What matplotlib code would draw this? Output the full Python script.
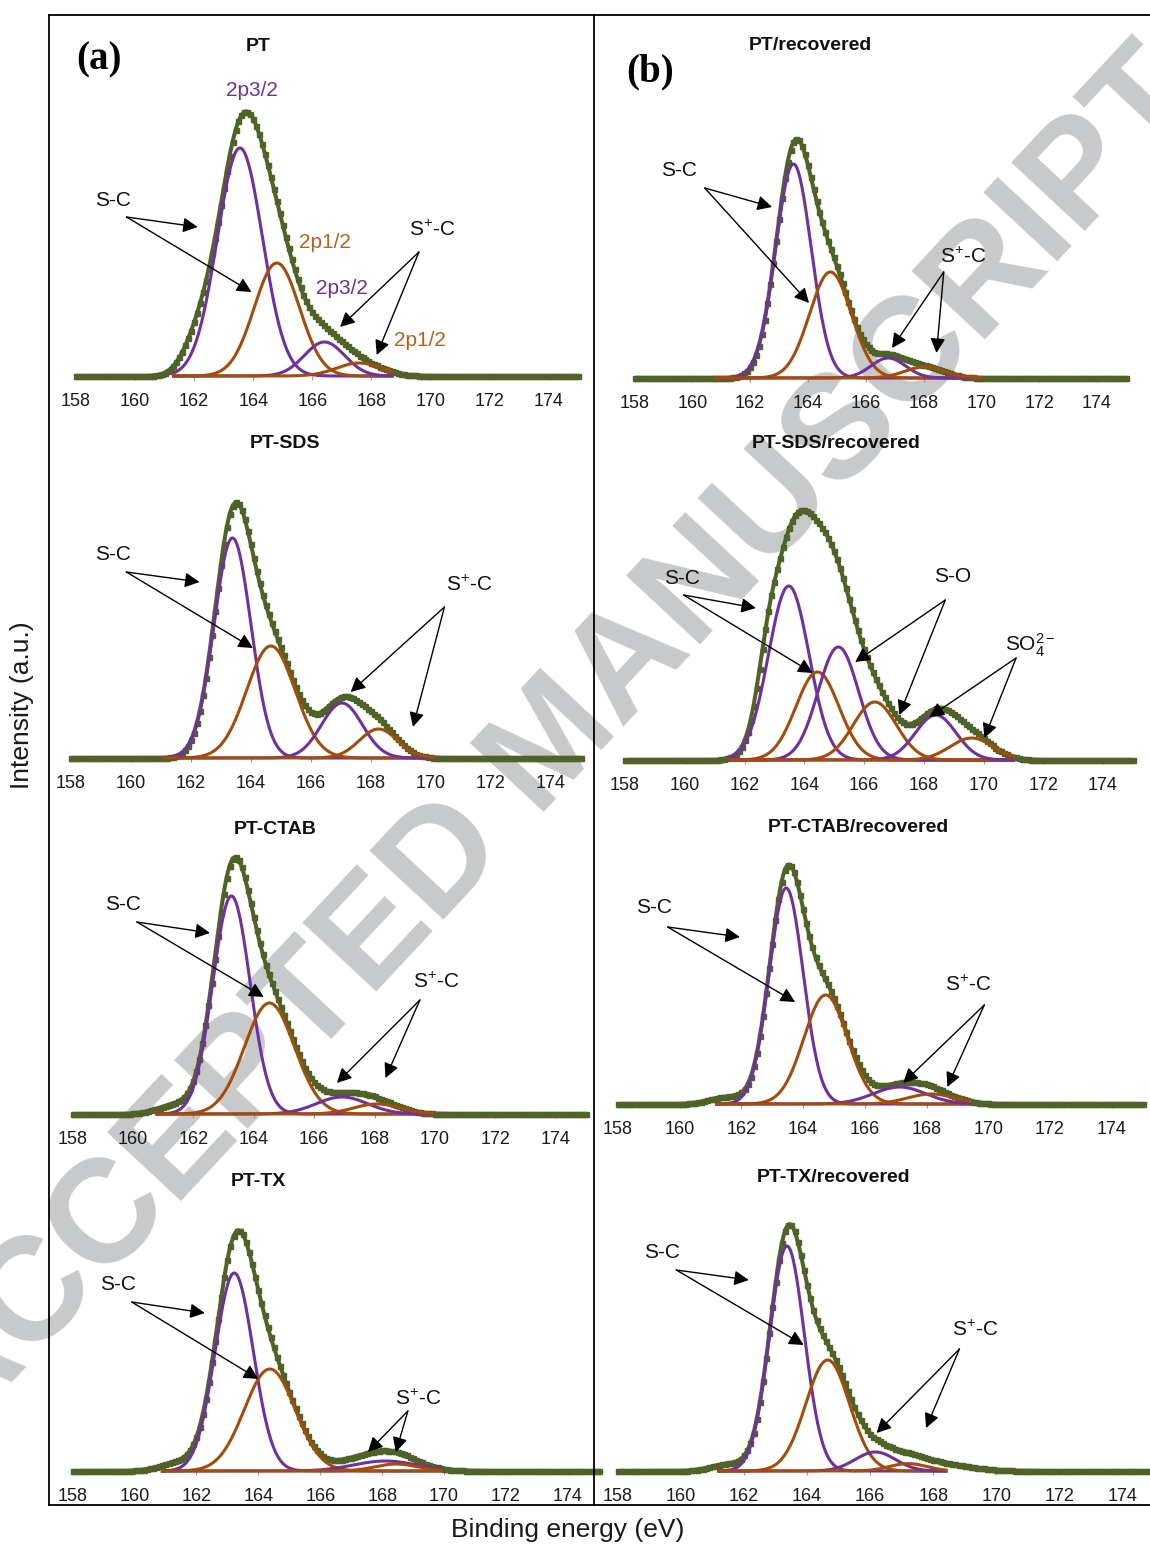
import numpy as np
import matplotlib
matplotlib.use("Agg")
import matplotlib.pyplot as plt
from matplotlib.lines import Line2D

plt.rcParams['font.family'] = ['Liberation Sans', 'DejaVu Sans']
plt.rcParams['mathtext.fontset'] = 'custom'
plt.rcParams['mathtext.rm'] = 'Liberation Sans'
plt.rcParams['mathtext.it'] = 'Liberation Sans:italic'
plt.rcParams['mathtext.bf'] = 'Liberation Sans:bold'

W, H = 1150, 1544

# ---------------- data ----------------
TITLES = ['PT', 'PT/recovered', 'PT-SDS', 'PT-SDS/recovered',
          'PT-CTAB', 'PT-CTAB/recovered', 'PT-TX', 'PT-TX/recovered']

XTICKS = [158, 160, 162, 164, 166, 168, 170, 172, 174]

# fitted S 2p components per panel: centre (eV), height (a.u.), FWHM (eV), kind
CENTERS = [
    [163.55, 164.80, 166.41, 167.59],
    [163.50, 164.78, 166.78, 168.03],
    [163.39, 164.67, 167.04, 168.26],
    [163.48, 164.44, 165.14, 166.36, 168.40, 169.60],
    [163.26, 164.52, 166.92, 168.07],
    [163.45, 164.73, 167.12, 168.15],
    [163.22, 164.37, 168.10, 168.45],
    [163.36, 164.65, 166.16, 167.20],
]
HEIGHTS = [
    [228, 113, 34, 13],
    [214, 106, 20, 11],
    [220, 112, 55, 29],
    [174, 88, 113, 58, 45, 22],
    [218, 111, 17, 10],
    [216, 109, 17, 10],
    [198, 102, 10, 7],
    [225, 111, 19, 7.4],
]
FWHMS = [
    [1.80, 1.80, 1.60, 1.80],
    [1.45, 1.70, 1.40, 1.60],
    [1.45, 1.90, 1.60, 1.50],
    [1.60, 1.70, 1.60, 1.70, 1.60, 1.70],
    [1.45, 1.95, 2.00, 1.80],
    [1.30, 1.66, 2.00, 1.80],
    [1.45, 1.93, 2.40, 1.60],
    [1.30, 1.63, 1.50, 1.40],
]
KINDS = [
    ['p', 'o', 'p', 'o'],
    ['p', 'o', 'p', 'o'],
    ['p', 'o', 'p', 'o'],
    ['p', 'o', 'p', 'o', 'p', 'o'],
    ['p', 'o', 'p', 'o'],
    ['p', 'o', 'p', 'o'],
    ['p', 'o', 'p', 'o'],
    ['p', 'o', 'p', 'o'],
]
# extra background contributions of the fitted envelope (centre, height, FWHM)
ENV_EXTRA = [
    [(162.1, 25, 1.2)],
    [],
    [],
    [(162.75, 35, 0.8), (164.2, 20, 1.5)],
    [(161.4, 9, 1.4)],
    [(161.5, 7, 1.3)],
    [(161.4, 8, 1.4), (167.3, 7, 2.0)],
    [(161.5, 7, 1.3), (168.0, 8, 2.5)],
]
# energy range over which the components are drawn
FIT_RANGE = [(161.3, 168.7), (160.8, 170.0), (161.1, 170.1), (161.5, 171.0),
             (160.8, 169.9), (161.2, 169.4), (160.9, 169.9), (161.2, 168.4)]

# annotations: label, label position, arrow origin, arrow tips (data coords)
ANN = [
    [('S-C', (159.24, 176), (159.71, 159), [(162.12, 149), (163.94, 84)]),
     ('S$^{+}$-C', (170.05, 146), (169.61, 124), [(166.94, 49), (168.18, 21)])],
    [('S-C', (159.54, 208), (160.43, 190), [(162.76, 171), (164.04, 75)]),
     ('S$^{+}$-C', (169.37, 121), (168.70, 106), [(166.91, 30), (168.45, 25)])],
    [('S-C', (159.39, 203), (159.85, 186), [(162.29, 176), (164.07, 110)]),
     ('S$^{+}$-C', (171.28, 173), (170.46, 151), [(167.33, 66), (169.41, 31)])],
    [('S-C', (159.89, 181), (159.96, 165), [(162.38, 152), (164.28, 87)]),
     ('S-O', (168.96, 183), (168.72, 160), [(165.70, 98), (167.18, 45)]),
     ('SO$_4^{2-}$', (171.56, 115), (171.09, 102), [(168.19, 43), (170.03, 22)])],
    [('S-C', (159.67, 209), (160.13, 192), [(162.55, 181), (164.33, 117)]),
     ('S$^{+}$-C', (170.03, 132), (169.50, 114), [(166.75, 31), (168.36, 36)])],
    [('S-C', (159.18, 196), (159.61, 177), [(161.95, 167), (163.74, 102)]),
     ('S$^{+}$-C', (169.36, 119), (169.87, 99), [(167.24, 21), (168.67, 17)])],
    [('S-C', (159.46, 186), (159.91, 169), [(162.27, 158), (164.00, 92)]),
     ('S$^{+}$-C', (169.17, 72), (168.83, 60), [(167.54, 19), (168.44, 19)])],
    [('S-C', (159.40, 218), (159.85, 201), [(162.15, 191), (163.89, 126)]),
     ('S$^{+}$-C', (169.34, 141), (168.83, 122), [(166.20, 38), (167.77, 43)])],
]
# spin-orbit labels in panel (a) PT
SO_TEXT = ['2p3/2', '2p1/2', '2p3/2', '2p1/2']
SO_POS = [(163.94, 286), (166.42, 133), (167.0, 88), (169.65, 35)]
SO_KIND = ['p', 'o', 'p', 'o']

# ---------------- layout (pixels) ----------------
X158 = [76, 634.5, 70.9, 625.1, 72.6, 618, 72.6, 618]
PPE = [29.54, 28.9, 29.98, 29.87, 30.2, 30.86, 30.96, 31.53]
BASE = [376, 378, 758, 760, 1114, 1104, 1471, 1471]
TITLE_XY = [(258.5, 46.7), (810, 45.7), (284.6, 444), (835.7, 443.3),
            (275, 830), (858.7, 828), (258.5, 1181), (834, 1177.5)]
AXH = 300

GREEN = '#4F6228'
PURPLE = '#7030A0'
ORANGE = '#A64B08'
ORANGE_T = '#B8621E'
COL = {'p': PURPLE, 'o': ORANGE}


def gauss(x, c, h, f):
    s = f / 2.3548
    return h * np.exp(-(x - c) ** 2 / (2 * s * s))


fig = plt.figure(figsize=(W / 100, H / 100), dpi=100)


def fx(x):
    return x / W


def fy(y):
    return 1 - y / H


for i in range(8):
    ax = fig.add_axes([fx(X158[i]), fy(BASE[i]), PPE[i] * 17 / W, AXH / H])
    ax.set_facecolor('none')
    ax.set_xlim(158, 175)
    ax.set_ylim(0, AXH)
    for s in ax.spines.values():
        s.set_visible(False)
    ax.set_yticks([])
    ax.set_xticks(XTICKS)
    ax.set_xticklabels([str(t) for t in XTICKS])
    ax.tick_params(axis='x', length=3, width=0.8, color='#999999',
                   labelsize=13, pad=9.5, labelcolor='#1a1a1a')

    comps = list(zip(CENTERS[i], HEIGHTS[i], FWHMS[i], KINDS[i]))

    def envelope(x):
        y = np.zeros_like(x)
        for c, h, f, k in comps:
            y += gauss(x, c, h, f)
        for c, h, f in ENV_EXTRA[i]:
            y += gauss(x, c, h, f)
        return y

    xs = np.arange(158, 175.001, 0.1)
    xl = np.linspace(158, 175, 1200)
    ax.plot(xs, envelope(xs), ls='none', marker='s', ms=3.6, color=GREEN,
            clip_on=False, zorder=2)
    ax.plot(xl, envelope(xl), color=GREEN, lw=2.9, clip_on=False, zorder=3,
            solid_capstyle='butt')
    lo, hi = FIT_RANGE[i]
    xf = np.linspace(lo, hi, 600)
    for c, h, f, k in comps:
        ax.plot(xf, gauss(xf, c, h, f), color=COL[k], lw=2.2, zorder=4,
                clip_on=False)

    for lab, tpos, org, tips in ANN[i]:
        ax.text(tpos[0], tpos[1], lab, fontsize=15, ha='center', va='center',
                color='#111111', zorder=6)
        for tip in tips:
            ax.annotate('', xy=tip, xytext=org,
                        arrowprops=dict(arrowstyle='-|>,head_length=0.55,head_width=0.28',
                                        color='black', lw=1.0, mutation_scale=16,
                                        shrinkA=0, shrinkB=0), zorder=6)
    if i == 0:
        for t, p, k in zip(SO_TEXT, SO_POS, SO_KIND):
            ax.text(p[0], p[1], t, fontsize=15, ha='center', va='center',
                    color=PURPLE if k == 'p' else ORANGE_T, zorder=6)

    fig.text(fx(TITLE_XY[i][0]), fy(TITLE_XY[i][1]), TITLES[i], fontsize=14,
             fontweight='bold', ha='center', va='center', color='#111111')

# panel letters
fig.text(fx(98.7), fy(60), '(a)', fontsize=28, fontweight='bold',
         family='Liberation Serif', ha='center', va='center')
fig.text(fx(650), fy(72), '(b)', fontsize=28, fontweight='bold',
         family='Liberation Serif', ha='center', va='center')

# axis titles
fig.text(fx(22), fy(705), 'Intensity (a.u.)', fontsize=19, rotation=90,
         ha='center', va='center', color='#1a1a1a')
fig.text(fx(568), fy(1530), 'Binding energy (eV)', fontsize=19,
         ha='center', va='center', color='#1a1a1a')

# frame
for (x0, y0, x1, y1) in [(49, 15, 1155, 15), (49, 1505, 1155, 1505),
                         (49, 15, 49, 1505), (594, 15, 594, 1505)]:
    fig.add_artist(Line2D([fx(x0), fx(x1)], [fy(y0), fy(y1)], color='black',
                          lw=1.3, transform=fig.transFigure))

# watermark
fig.text(fx(555), fy(745), 'ACCEPTED MANUSCRIPT', fontsize=106,
         fontweight='bold', color='#c8c9ca', rotation=47, ha='center',
         va='center', rotation_mode='anchor', zorder=-10)

fig.savefig('out.png', dpi=100)
